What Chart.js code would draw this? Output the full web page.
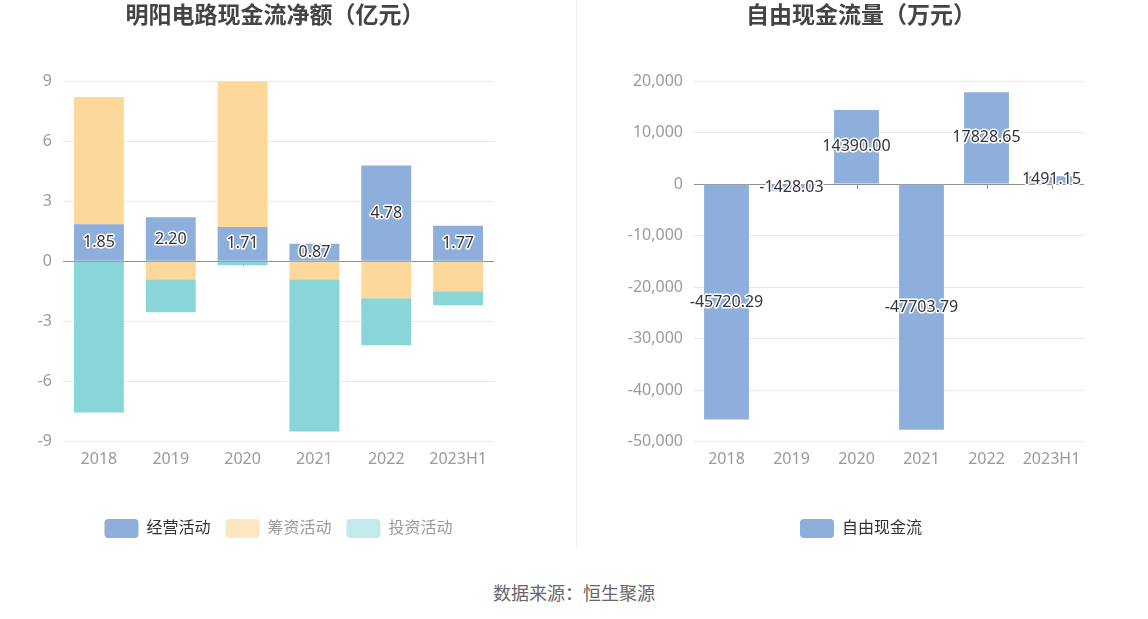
<!DOCTYPE html>
<html>
<head>
<meta charset="utf-8">
<script src="https://cdn.jsdelivr.net/npm/chart.js@4"></script>
<style>
  html, body { margin: 0; padding: 0; background: #fff; }
  body { width: 1148px; height: 619px; position: relative; overflow: hidden; font-family: "Noto Sans", "Noto Sans CJK SC", sans-serif; }
  .box { position: absolute; top: 0; width: 574px; height: 560px; }
  #sep { position: absolute; left: 576px; top: 0; width: 1px; height: 548px; background: #eeeeee; }
  #source { position: absolute; left: 0; width: 1148px; top: 579px; text-align: center; font-size: 18px; color: #666; font-family: "Noto Sans CJK SC", sans-serif; }
</style>
</head>
<body>
<div class="box" style="left:0"><canvas id="c1" width="574" height="560"></canvas></div>
<div class="box" style="left:574px"><canvas id="c2" width="574" height="560"></canvas></div>
<div id="sep"></div>
<div id="source">数据来源：恒生聚源</div>
<script>
// ---- data ----
const categories = ['2018', '2019', '2020', '2021', '2022', '2023H1'];
const operating = [1.85, 2.20, 1.71, 0.87, 4.78, 1.77];     // 经营活动
const financing = [6.35, -0.90, 7.27, -0.90, -1.85, -1.50]; // 筹资活动
const investing = [-7.55, -1.65, -0.20, -7.60, -2.35, -0.70]; // 投资活动
const freeCashFlow = [-45720.29, -1428.03, 14390.00, -47703.79, 17828.65, 1491.15]; // 自由现金流
const leftTicks = { min: -9, max: 9, step: 3 };
const rightTicks = { min: -50000, max: 20000, step: 10000 };

const FONT = '"Noto Sans", "Noto Sans CJK SC", sans-serif';
const BLUE = '#8eaedb', YELLOW = '#fed89a', TEAL = '#88d6d8';
const GRID = '#e3e8f2', ZERO = '#909090', TICK = '#9a9a9a';

const valueLabels = {
  id: 'valueLabels',
  afterDatasetsDraw(chart, args, opts) {
    const ctx = chart.ctx;
    (opts.datasets || []).forEach(di => {
      const meta = chart.getDatasetMeta(di);
      const ds = chart.data.datasets[di];
      meta.data.forEach((el, i) => {
        const p = el.getProps(['x', 'y', 'base'], true);
        const y = (p.y + p.base) / 2;
        const txt = ds.data[i].toFixed(2);
        ctx.save();
        ctx.font = '16px ' + FONT;
        ctx.textAlign = 'center';
        ctx.textBaseline = 'middle';
        ctx.lineJoin = 'round';
        ctx.lineWidth = 3;
        ctx.strokeStyle = '#ffffff';
        ctx.strokeText(txt, p.x, y);
        ctx.fillStyle = '#333333';
        ctx.fillText(txt, p.x, y);
        ctx.restore();
      });
    });
  }
};

const zeroTicks = {
  id: 'zeroTicks',
  beforeDatasetsDraw(chart) {
    const ctx = chart.ctx;
    const xs = chart.scales.x, ys = chart.scales.y;
    const y0 = ys.getPixelForValue(0);
    ctx.save();
    ctx.strokeStyle = ZERO;
    ctx.lineWidth = 1;
    categories.forEach((c, i) => {
      const x = Math.round(xs.getPixelForValue(i)) + 0.5;
      ctx.beginPath();
      ctx.moveTo(x, y0);
      ctx.lineTo(x, y0 + 5);
      ctx.stroke();
    });
    ctx.restore();
  }
};

function baseOptions(title, yWidth, padRight, rightAxisWidth, legendFull, tickCfg, fmt, legendStyles) {
  const o = {
    responsive: false,
    animation: false,
    layout: { padding: { left: 0, right: padRight, top: 0, bottom: 12 } },
    plugins: {
      title: {
        display: true, text: title, color: '#444444',
        font: { size: 23, weight: 'bold', family: FONT },
        padding: { top: 3, bottom: 50.4 }
      },
      legend: {
        position: 'bottom',
        fullSize: legendFull,
        labels: {
          boxWidth: 34, boxHeight: 19, padding: 15, useBorderRadius: true, borderRadius: 4,
          font: { size: 16, family: FONT },
          generateLabels(chart) {
            return chart.data.datasets.map((ds, i) => ({
              text: ds.label, fillStyle: legendStyles[i].fill, strokeStyle: legendStyles[i].fill,
              lineWidth: 0, fontColor: legendStyles[i].color, datasetIndex: i, hidden: false,
              borderRadius: 4
            }));
          }
        }
      },
      tooltip: { enabled: false }
    },
    scales: {
      x: {
        stacked: true,
        grid: { display: false, drawTicks: false },
        border: { display: false },
        ticks: { color: TICK, font: { size: 16, family: FONT }, padding: 8, maxRotation: 0, autoSkip: false },
        afterFit(s) { s.height = 62.5; }
      },
      y: {
        stacked: true,
        min: tickCfg.min, max: tickCfg.max,
        grid: {
          drawTicks: false,
          color: c => (c.tick && c.tick.value === 0 ? ZERO : GRID),
          lineWidth: 1
        },
        border: { display: false },
        ticks: { stepSize: tickCfg.step, color: TICK, font: { size: 16, family: FONT }, padding: 11, callback: fmt },
        afterFit(s) { s.width = yWidth; }
      }
    }
  };
  if (rightAxisWidth > 0) {
    o.scales.yPad = {
      position: 'right', display: true,
      grid: { display: false, drawTicks: false }, border: { display: false },
      ticks: { display: false },
      afterFit(s) { s.width = rightAxisWidth; }
    };
  }
  return o;
}

new Chart(document.getElementById('c1'), {
  type: 'bar',
  data: {
    labels: categories,
    datasets: [
      { label: '经营活动', data: operating, backgroundColor: BLUE, barPercentage: 0.695, categoryPercentage: 1 },
      { label: '筹资活动', data: financing, backgroundColor: YELLOW, barPercentage: 0.695, categoryPercentage: 1 },
      { label: '投资活动', data: investing, backgroundColor: TEAL, barPercentage: 0.695, categoryPercentage: 1 }
    ]
  },
  options: (() => {
    const o = baseOptions('明阳电路现金流净额（亿元）', 63, 24, 56, false, leftTicks, v => String(v),
      [{ fill: BLUE, color: '#333333' }, { fill: '#fde7c2', color: '#9a9a9a' }, { fill: '#c2eaea', color: '#9a9a9a' }]);
    o.plugins.valueLabels = { datasets: [0] };
    return o;
  })(),
  plugins: [valueLabels, zeroTicks]
});

new Chart(document.getElementById('c2'), {
  type: 'bar',
  data: {
    labels: categories,
    datasets: [
      { label: '自由现金流', data: freeCashFlow, backgroundColor: BLUE, barPercentage: 0.69, categoryPercentage: 1 }
    ]
  },
  options: (() => {
    const o = baseOptions('自由现金流量（万元）', 120, 0, 64, true, rightTicks, v => Number(v).toLocaleString('en-US'),
      [{ fill: BLUE, color: '#333333' }]);
    o.plugins.valueLabels = { datasets: [0] };
    return o;
  })(),
  plugins: [valueLabels, zeroTicks]
});
</script>
</body>
</html>
